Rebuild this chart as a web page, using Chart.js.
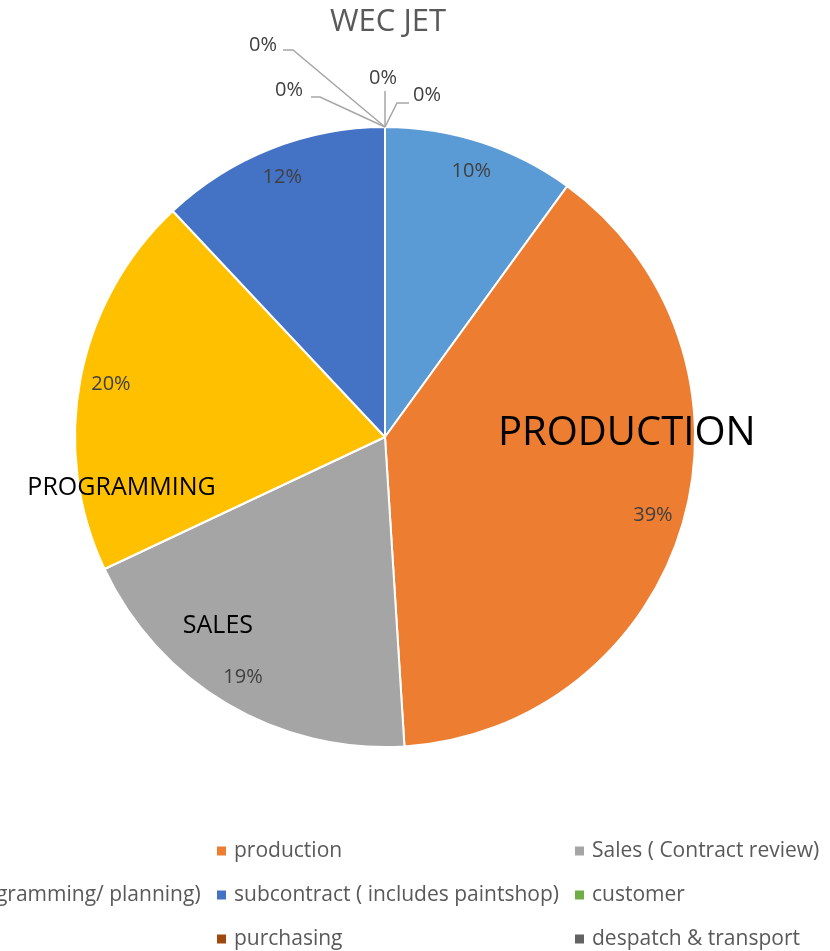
<!DOCTYPE html>
<html>
<head>
<meta charset="utf-8">
<title>WEC JET</title>
<script src="https://cdn.jsdelivr.net/npm/chart.js@4.4.1/dist/chart.umd.min.js"></script>
<style>
  html, body { margin: 0; padding: 0; background: #fff; overflow: hidden; }
  canvas { display: block; }
</style>
</head>
<body>
<canvas id="pie" width="830" height="951"></canvas>
<script>
// --- data ---
const chartTitle = "WEC JET";
const categories = [
  "estimating",
  "production",
  "Sales ( Contract review)",
  "designs (programming/ planning)",
  "subcontract ( includes paintshop)",
  "customer",
  "stores",
  "purchasing",
  "despatch & transport"
];
const shares = [10, 39, 19, 20, 12, 0, 0, 0, 0];
const sliceColors = ["#5B9BD5", "#ED7D31", "#A5A5A5", "#FFC000", "#4472C4", "#70AD47", "#255E91", "#9E480E", "#636363"];
// big name labels that sit on three of the slices
const sliceNames = { 1: "PRODUCTION", 2: "SALES", 3: "PROGRAMMING" };

// --- layout only ---
const FONT = "'Open Sans', 'Noto Sans', sans-serif";
const nameLayout = {
  1: { dx: 0.78, dy: -0.01, size: 40 },
  2: { dx: -0.539, dy: 0.61, size: 25 },
  3: { dx: -0.85, dy: 0.165, size: 25 }
};
// label + elbow for the empty slices, offsets from the slice tip (top of pie)
const zeroLabels = {
  5: { lx: 42, ly: -32, pts: [[12, -24], [24, -24]] },
  6: { lx: -2, ly: -49, pts: [[0, -36]] },
  7: { lx: -96, ly: -37, pts: [[-65, -30], [-74, -30]] },
  8: { lx: -122, ly: -82, pts: [[-92, -77], [-102, -77]] }
};
const legendCols = [-141, 217, 575];
const legendRows = [851, 895, 939];

const labelPlugin = {
  id: "labels",
  afterDatasetsDraw(chart) {
    const ctx = chart.ctx;
    const arcs = chart.getDatasetMeta(0).data;
    const vals = chart.data.datasets[0].data;
    const total = vals.reduce((a, b) => a + b, 0);
    ctx.save();
    ctx.textAlign = "center";
    ctx.textBaseline = "middle";
    arcs.forEach((arc, i) => {
      const { x, y, startAngle, endAngle, outerRadius } = arc.getProps(["x", "y", "startAngle", "endAngle", "outerRadius"], true);
      const pct = Math.round(vals[i] / total * 100) + "%";
      ctx.fillStyle = "#404040";
      ctx.font = "20px " + FONT;
      if (vals[i] > 0) {
        const mid = (startAngle + endAngle) / 2;
        ctx.fillText(pct, x + Math.cos(mid) * outerRadius * 0.9, y + Math.sin(mid) * outerRadius * 0.9);
      } else if (zeroLabels[i]) {
        const tipX = x + Math.cos(startAngle) * outerRadius;
        const tipY = y + Math.sin(startAngle) * outerRadius;
        const z = zeroLabels[i];
        ctx.strokeStyle = "#A6A6A6";
        ctx.lineWidth = 1.5;
        ctx.beginPath();
        ctx.moveTo(tipX, tipY);
        z.pts.forEach(p => ctx.lineTo(tipX + p[0], tipY + p[1]));
        ctx.stroke();
        ctx.fillText(pct, tipX + z.lx, tipY + z.ly);
      }
      if (sliceNames[i]) {
        const n = nameLayout[i];
        ctx.fillStyle = "#000";
        ctx.font = n.size + "px " + FONT;
        ctx.fillText(sliceNames[i], x + n.dx * outerRadius, y + n.dy * outerRadius);
      }
    });
    // title
    ctx.fillStyle = "#595959";
    ctx.font = "31px " + FONT;
    ctx.fillText(chartTitle, 388, 22);
    // legend, three columns, wider than the canvas like the original
    ctx.textAlign = "left";
    ctx.font = "21px " + FONT;
    chart.data.labels.forEach((lab, i) => {
      const cx = legendCols[i % 3];
      const cy = legendRows[Math.floor(i / 3)];
      ctx.fillStyle = sliceColors[i];
      ctx.fillRect(cx, cy - 4.5, 9, 9);
      ctx.fillStyle = "#595959";
      ctx.fillText(lab, cx + 17, cy);
    });
    ctx.restore();
  }
};

new Chart(document.getElementById("pie"), {
  type: "pie",
  data: {
    labels: categories,
    datasets: [{
      data: shares,
      backgroundColor: sliceColors,
      borderColor: "#fff",
      borderWidth: 2
    }]
  },
  options: {
    responsive: false,
    animation: false,
    layout: { padding: { left: 45, right: 105, top: 126, bottom: 203 } },
    plugins: { legend: { display: false }, tooltip: { enabled: false }, title: { display: false } }
  },
  plugins: [labelPlugin]
});
</script>
</body>
</html>
